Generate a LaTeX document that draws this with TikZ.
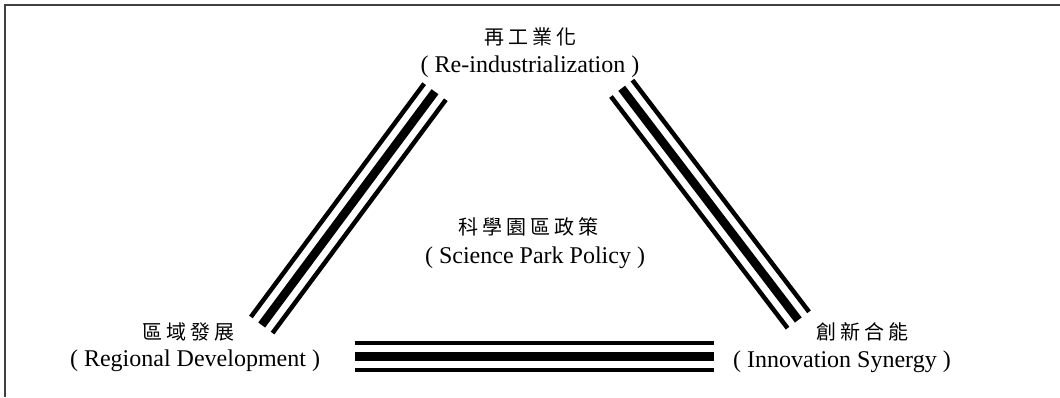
\documentclass[tikz,border=0pt]{standalone}
\usepackage{fontspec}
\setmainfont{Liberation Serif}
\newfontfamily\cjk[LetterSpace=20]{Noto Sans CJK TC}
\usetikzlibrary{calc, positioning}

\begin{document}
\begin{tikzpicture}[x=1pt, y=-1pt,
	every node/.style={inner sep=0pt},
	zh/.style={font=\cjk\fontsize{20}{24}\selectfont},
	en/.style={font=\fontsize{24}{28}\selectfont}]
	
	%//picture in pixels, y going down
	\useasboundingbox (0,0) rectangle (1060,397);
	\draw [line width=1.5pt, black!75] (5,397) -- (5,5) -- (1060,5);
	
	\node [zh] (ri-zh) at (530,37) {再工業化};
	\node [en] (ri-en) at (530,67) {( Re-industrialization )};
	\node [zh] (sp-zh) at (528,227) {科學園區政策};
	\node [en] (sp-en) at (535,258) {( Science Park Policy )};
	\node [zh] (rd-zh) at (188,332) {區域發展};
	\node [en] (rd-en) at (195,361) {( Regional Development )};
	\node [zh] (is-zh) at (862,332) {創新合能};
	\node [en] (is-en) at (842,362) {( Innovation Synergy )};
	
	%//ends of the three bars
	\coordinate (rd-top) at (435,91.7);
	\coordinate (rd-bot) at (261.7,325);
	\coordinate (is-top) at (621.7,88.3);
	\coordinate (is-bot) at (798.3,320);
	\coordinate (h-left) at (355,356.3);
	\coordinate (h-right) at (714,356.3);
	
	\foreach \a/\b in {rd-bot/rd-top, is-top/is-bot, h-left/h-right}
	\foreach \o/\w in {-13.5/4.5, 0/8.5, 13.5/4.5}
	\draw [line width=\w pt] ($(\a)!\o pt!90:(\b)$) -- ($(\b)!\o pt!-90:(\a)$);
	
\end{tikzpicture}
\end{document}
